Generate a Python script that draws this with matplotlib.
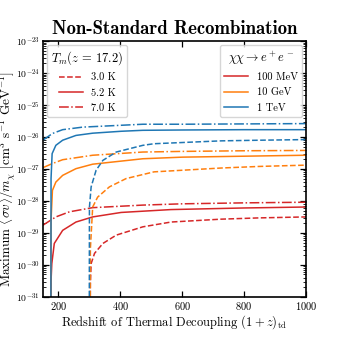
import numpy as np
import matplotlib
matplotlib.use("Agg")
import matplotlib.pyplot as plt
from matplotlib.lines import Line2D
from matplotlib.ticker import LogLocator, NullFormatter

plt.rcParams['font.family'] = 'cmr10'
plt.rcParams['mathtext.fontset'] = 'cm'
plt.rcParams['axes.formatter.use_mathtext'] = True

# log10 of max <sigma v>/m_chi
# 100 MeV (red)
red_30_z = [303, 303.5, 306, 317, 344, 387, 473, 564, 726, 850, 1000]
red_30_y = [-32.0, -30.6, -29.96, -29.64, -29.33, -29.07, -28.81, -28.66, -28.57, -28.53, -28.50]
red_52_z = [176, 176.5, 179, 187, 214, 257, 311, 403, 564, 800, 1000]
red_52_y = [-32.0, -30.5, -29.96, -29.33, -28.92, -28.66, -28.50, -28.36, -28.27, -28.22, -28.19]
red_70_z = [150, 192, 236, 311, 473, 600, 800, 1000]
red_70_y = [-28.76, -28.50, -28.34, -28.21, -28.13, -28.09, -28.06, -28.04]

# 10 GeV (orange)
orange_30_z = [303, 303.5, 311, 327, 365, 419, 509, 726, 850, 1000]
orange_30_y = [-32.0, -29.5, -28.19, -27.88, -27.56, -27.30, -27.09, -26.97, -26.92, -26.88]
orange_52_z = [176, 176.5, 181, 192, 214, 257, 311, 473, 600, 800, 1000]
orange_52_y = [-32.0, -28.6, -27.67, -27.41, -27.20, -26.99, -26.85, -26.68, -26.63, -26.60, -26.57]
orange_70_z = [150, 181, 214, 311, 473, 600, 800, 1000]
orange_70_y = [-26.96, -26.83, -26.71, -26.57, -26.47, -26.45, -26.43, -26.42]

# 1 TeV (blue)
blue_30_z = [300, 300.5, 306, 322, 344, 387, 473, 509, 726, 850, 1000]
blue_30_y = [-32.0, -28.2, -27.56, -27.04, -26.73, -26.47, -26.26, -26.21, -26.12, -26.10, -26.08]
blue_52_z = [176, 176.5, 180, 192, 214, 257, 311, 403, 473, 600, 800, 1000]
blue_52_y = [-32.0, -27.3, -26.52, -26.26, -26.10, -25.95, -25.88, -25.82, -25.79, -25.78, -25.77, -25.77]
blue_70_z = [150, 181, 214, 279, 473, 600, 800, 1000]
blue_70_y = [-26.10, -25.89, -25.77, -25.69, -25.60, -25.60, -25.59, -25.58]

colors = {'100 MeV': '#d62728', '10 GeV': '#ff7f0e', '1 TeV': '#1f77b4'}
temps = ['3.0 K', '5.2 K', '7.0 K']
styles = {'3.0 K': '--', '5.2 K': '-', '7.0 K': '-.'}

curves = [
    ('100 MeV', '3.0 K', red_30_z, red_30_y),
    ('100 MeV', '5.2 K', red_52_z, red_52_y),
    ('100 MeV', '7.0 K', red_70_z, red_70_y),
    ('10 GeV', '3.0 K', orange_30_z, orange_30_y),
    ('10 GeV', '5.2 K', orange_52_z, orange_52_y),
    ('10 GeV', '7.0 K', orange_70_z, orange_70_y),
    ('1 TeV', '3.0 K', blue_30_z, blue_30_y),
    ('1 TeV', '5.2 K', blue_52_z, blue_52_y),
    ('1 TeV', '7.0 K', blue_70_z, blue_70_y),
]

fig = plt.figure(figsize=(3.4, 3.4), dpi=100)
ax = fig.add_axes([0.126, 0.127, 0.774, 0.752])

for mass, temp, z, y in curves:
    ax.plot(z, 10.0 ** np.array(y), color=colors[mass], ls=styles[temp], lw=1.1)

ax.set_yscale('log')
ax.set_xlim(150, 1000)
ax.set_ylim(1e-31, 1e-23)
ax.set_xticks([200, 400, 600, 800, 1000])
ax.yaxis.set_major_locator(LogLocator(base=10, numticks=20))
ax.yaxis.set_minor_locator(LogLocator(base=10, subs=np.arange(2, 10), numticks=20))
ax.yaxis.set_minor_formatter(NullFormatter())
ax.tick_params(which='both', direction='in', top=True, right=True, labelsize=7, pad=2)
ax.tick_params(axis='x', labelsize=7.5)
ax.tick_params(which='major', length=4, width=0.9)
ax.tick_params(which='minor', length=2, width=0.6)
for sp in ax.spines.values():
    sp.set_linewidth(1.2)

ax.set_xlabel(r'Redshift of Thermal Decoupling $(1+z)_{\rm td}$', fontsize=9, labelpad=1)
ax.set_ylabel(r'Maximum $\langle \sigma v \rangle / m_\chi$ [cm$^3$ s$^{-1}$ GeV$^{-1}$]',
              fontsize=9.5)
ax.yaxis.set_label_coords(-0.095, 0.46)
ax.set_title('Non-Standard Recombination', fontfamily='cmb10', fontsize=13.5, pad=5)

temp_handles = [Line2D([], [], color=colors['100 MeV'], ls=styles[t], lw=1.1) for t in temps]
leg1 = ax.legend(temp_handles, temps, loc='upper left', title=r'$T_m(z\,=\,17.2)$',
                 fontsize=7.5, title_fontsize=9, handlelength=2.3, borderaxespad=0.4,
                 labelspacing=0.55)
ax.add_artist(leg1)
mass_handles = [Line2D([], [], color=colors[m], ls='-', lw=1.1) for m in colors]
ax.legend(mass_handles, list(colors), loc='upper right', title=r'$\chi\chi \to e^+e^-$',
          fontsize=7.5, title_fontsize=9, handlelength=2.3, borderaxespad=0.4,
          labelspacing=0.55)

fig.savefig('out.png', dpi=100)
